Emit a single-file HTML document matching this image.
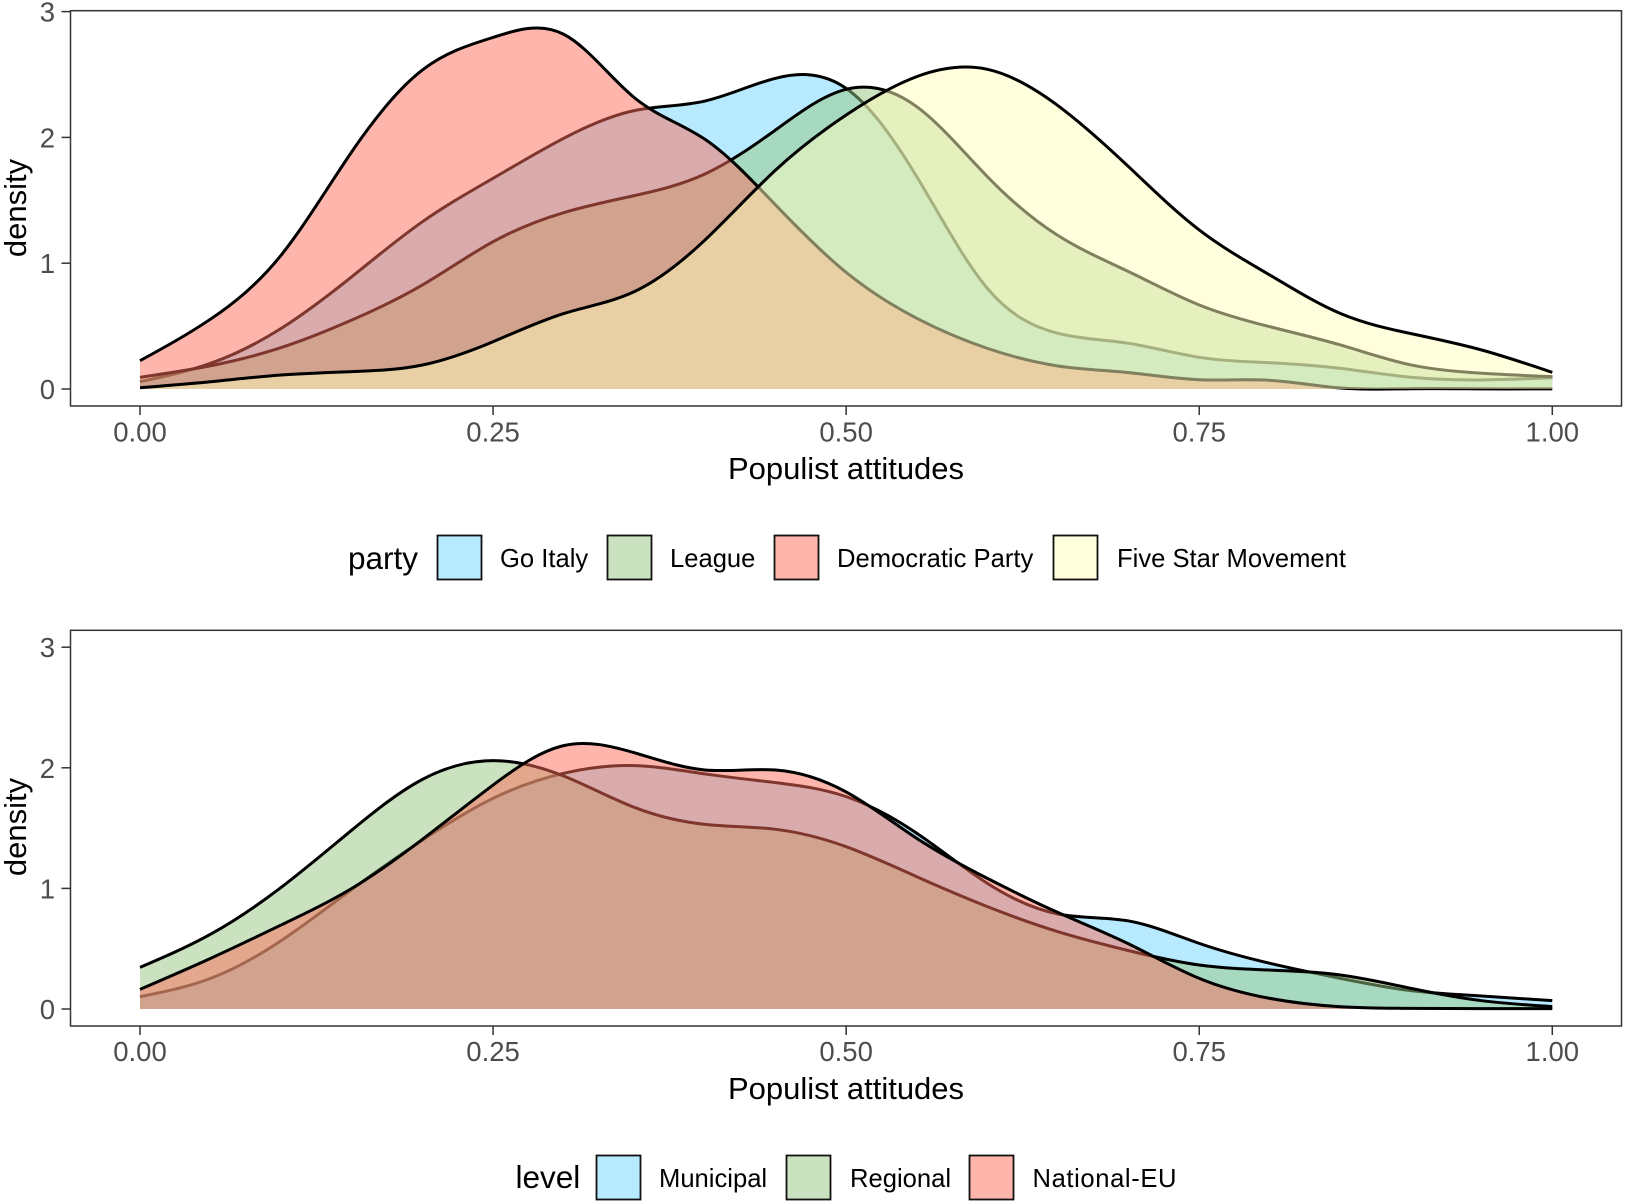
<!DOCTYPE html>
<html lang="en">
<head>
<meta charset="utf-8">
<title>Populist attitudes density by party and level</title>
<style>
html,body{margin:0;padding:0;background:#fff;}
svg{display:block;}
text{font-family:"Liberation Sans",sans-serif;}
.tick{font-size:27.5px;fill:#4d4d4d;}
.title{font-size:31px;fill:#000;}
.leg{font-size:25.6px;fill:#000;}
.legt{font-size:31.5px;fill:#000;}
</style>
</head>
<body>
<svg id="chart" width="1625" height="1202" viewBox="0 0 1625 1202" xmlns="http://www.w3.org/2000/svg">
  <g id="panel-top"></g>
  <g id="panel-bottom"></g>

  <g>
    <text class="legt" x="348" y="569">party</text>
    <rect x="437.5" y="535.5" width="44" height="44" fill="#b7eaff" stroke="#111" stroke-width="1.8"/>
    <text class="leg" x="500" y="567">Go Italy</text>
    <rect x="607.5" y="535.5" width="44" height="44" fill="#cbe2c0" stroke="#111" stroke-width="1.8"/>
    <text class="leg" x="670" y="567">League</text>
    <rect x="774.5" y="535.5" width="44" height="44" fill="#fdb5ac" stroke="#111" stroke-width="1.8"/>
    <text class="leg" x="837" y="567">Democratic Party</text>
    <rect x="1053.5" y="535.5" width="44" height="44" fill="#fffedd" stroke="#111" stroke-width="1.8"/>
    <text class="leg" x="1117" y="567">Five Star Movement</text>
  </g>

  <g>
    <text class="legt" x="515.5" y="1188">level</text>
    <rect x="596.5" y="1155.5" width="44" height="44" fill="#b7eaff" stroke="#111" stroke-width="1.8"/>
    <text class="leg" x="659" y="1187">Municipal</text>
    <rect x="786.5" y="1155.5" width="44" height="44" fill="#cbe2c0" stroke="#111" stroke-width="1.8"/>
    <text class="leg" x="850" y="1187">Regional</text>
    <rect x="969.5" y="1155.5" width="44" height="44" fill="#fdb5ac" stroke="#111" stroke-width="1.8"/>
    <text class="leg" x="1032.5" y="1187" textLength="144">National-EU</text>
  </g>
</svg>
<script>
const attitudeGrid = [0,0.05,0.1,0.15,0.2,0.25,0.3,0.35,0.4,0.45,0.5,0.55,0.6,0.65,0.7,0.75,0.8,0.85,0.9,0.95,1];
const xTickValues = [0,0.25,0.5,0.75,1];
const xTickLabels = ["0.00","0.25","0.50","0.75","1.00"];
const yTickValues = [0,1,2,3];
const yTickLabels = ["0","1","2","3"];

const goItalyDensity = [0.058,0.204,0.482,0.893,1.33,1.675,1.993,2.213,2.289,2.47,2.39,1.688,0.80,0.443,0.363,0.252,0.209,0.164,0.093,0.072,0.09];
const leagueDensity = [0.093,0.185,0.329,0.548,0.827,1.171,1.402,1.537,1.709,2.059,2.382,2.244,1.688,1.22,0.933,0.668,0.495,0.35,0.191,0.125,0.098];
const democraticDensity = [0.225,0.556,1.065,1.887,2.536,2.795,2.82,2.316,1.985,1.463,0.927,0.562,0.323,0.183,0.13,0.074,0.069,0.008,0.002,0.001,0.001];
const fiveStarDensity = [0.01,0.058,0.111,0.138,0.191,0.376,0.60,0.774,1.184,1.74,2.178,2.483,2.541,2.252,1.767,1.264,0.906,0.60,0.44,0.31,0.132];

const municipalDensity = [0.102,0.254,0.567,0.992,1.40,1.747,1.954,2.018,1.949,1.877,1.761,1.457,1.042,0.788,0.73,0.544,0.379,0.254,0.152,0.108,0.069];
const regionalDensity = [0.345,0.62,1.009,1.484,1.904,2.059,1.932,1.672,1.531,1.49,1.346,1.097,0.849,0.641,0.484,0.365,0.323,0.282,0.171,0.069,0.02];
const nationalDensity = [0.163,0.42,0.697,1.0,1.407,1.857,2.184,2.125,1.982,1.982,1.80,1.415,1.083,0.80,0.54,0.254,0.088,0.019,0.005,0.003,0.003];

const NS = "http://www.w3.org/2000/svg";
const xScale = v => 140 + 1412.3 * v;

function make(tag, attrs, parent) {
  const el = document.createElementNS(NS, tag);
  for (const k in attrs) el.setAttribute(k, attrs[k]);
  parent.appendChild(el);
  return el;
}

// Natural cubic spline through the scaled data points, emitted as Bezier segments.
function curvePath(xs, ys, X, Y) {
  const px = xs.map(X), py = ys.map(Y), n = px.length;
  const M = new Array(n).fill(0), c = new Array(n).fill(0), d = new Array(n).fill(0);
  for (let i = 1; i < n - 1; i++) {
    const h0 = px[i] - px[i - 1], h1 = px[i + 1] - px[i];
    const rhs = 6 * ((py[i + 1] - py[i]) / h1 - (py[i] - py[i - 1]) / h0);
    const w = 2 * (h0 + h1) - h0 * c[i - 1];
    c[i] = h1 / w;
    d[i] = (rhs - h0 * d[i - 1]) / w;
  }
  for (let i = n - 2; i > 0; i--) M[i] = d[i] - c[i] * M[i + 1];
  let path = "M" + px[0].toFixed(2) + " " + py[0].toFixed(2);
  for (let i = 0; i < n - 1; i++) {
    const h = px[i + 1] - px[i], s = (py[i + 1] - py[i]) / h;
    const t1 = s - h * (2 * M[i] + M[i + 1]) / 6;
    const t2 = s + h * (M[i] + 2 * M[i + 1]) / 6;
    path += "C" + (px[i] + h / 3).toFixed(2) + " " + (py[i] + h / 3 * t1).toFixed(2) + " " +
            (px[i + 1] - h / 3).toFixed(2) + " " + (py[i + 1] - h / 3 * t2).toFixed(2) + " " +
            px[i + 1].toFixed(2) + " " + py[i + 1].toFixed(2);
  }
  return path;
}

function drawPanel(g, top, bottom, y0, unit, series, titleY, tickY, densityY) {
  const Y = d => y0 - unit * d;
  const left = 70.5, right = 1621.5;

  series.forEach(s => {
    const line = curvePath(attitudeGrid, s.values, xScale, Y);
    const area = make("path", {
      d: line + "L" + xScale(attitudeGrid[attitudeGrid.length - 1]) + " " + Y(0) + "L" + xScale(attitudeGrid[0]) + " " + Y(0) + "Z",
      fill: s.color, "fill-opacity": 0.5, stroke: "none"
    }, g);
    
    
    const stroke = make("path", { d: line, fill: "none", stroke: "#000", "stroke-width": 3 }, g);
    
    
  });

  const frame = make("rect", { x: left, y: top, width: right - left, height: bottom - top, fill: "none", stroke: "#333", "stroke-width": 1.5 }, g);
  
  

  xTickValues.forEach((v, i) => {
    const t = make("line", { x1: xScale(v), x2: xScale(v), y1: bottom, y2: bottom + 9, stroke: "#333", "stroke-width": 1.5 }, g);
    
    
    const l = make("text", { class: "tick", x: xScale(v), y: tickY, "text-anchor": "middle" }, g);
    
    
    l.textContent = xTickLabels[i];
  });

  yTickValues.forEach((v, i) => {
    const t = make("line", { x1: left - 9, x2: left, y1: Y(v), y2: Y(v), stroke: "#333", "stroke-width": 1.5 }, g);
    
    
    const l = make("text", { class: "tick", x: 55, y: Y(v) + 10, "text-anchor": "end" }, g);
    
    
    l.textContent = yTickLabels[i];
  });

  const xt = make("text", { class: "title", x: 846, y: titleY, "text-anchor": "middle" }, g);
  
  
  xt.textContent = "Populist attitudes";

  const yt = make("text", { class: "title", x: 0, y: 0, "text-anchor": "middle", transform: "translate(26 " + densityY + ") rotate(-90)" }, g);
  
  
  yt.textContent = "density";
}

drawPanel(document.getElementById("panel-top"), 10.7, 406, 389, 125.8, [
  { values: goItalyDensity, color: "#6fd5ff" },
  { values: leagueDensity, color: "#97c581" },
  { values: democraticDensity, color: "#fb6b59" },
  { values: fiveStarDensity, color: "#fffdbb" }
], 479, 441.5, 208);

drawPanel(document.getElementById("panel-bottom"), 630.3, 1026, 1009, 120.6, [
  { values: municipalDensity, color: "#6fd5ff" },
  { values: regionalDensity, color: "#97c581" },
  { values: nationalDensity, color: "#fb6b59" }
], 1099, 1061, 827);
</script>
</body>
</html>
